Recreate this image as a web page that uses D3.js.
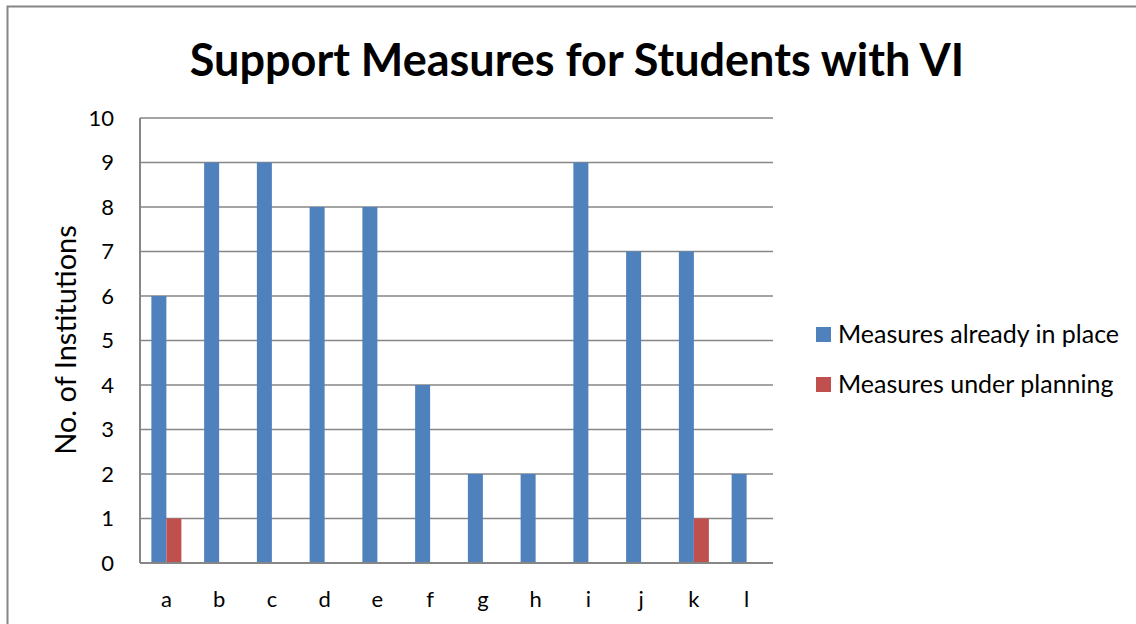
<!DOCTYPE html>
<html><head><meta charset="utf-8">
<script src="https://cdn.jsdelivr.net/npm/d3@7"></script>
<style>body{margin:0;background:#fff;} svg{display:block;}</style>
</head><body>
<script>
const categories = ["a","b","c","d","e","f","g","h","i","j","k","l"];
const inPlace = [6,9,9,8,8,4,2,2,9,7,7,2];
const underPlanning = [1,0,0,0,0,0,0,0,0,0,1,0];
const seriesNames = ["Measures already in place","Measures under planning"];
const colors = ["#4F81BD","#C0504D"];
const yTicks = [0,1,2,3,4,5,6,7,8,9,10];

const W=1136,H=624;
const svg=d3.select("body").append("svg").attr("width",W).attr("height",H);
const font="Lato, 'Open Sans', sans-serif";
svg.append("rect").attr("x",7.5).attr("y",6.5).attr("width",W+10).attr("height",H+10)
  .attr("fill","#fff").attr("stroke","#868686").attr("stroke-width",2);

const L=140,R=773,T=118,B=563;
const x=d3.scaleBand().domain(categories).range([L,R]).paddingInner(0).paddingOuter(0);
const y=d3.scaleLinear().domain([0,10]).range([B,T]);
const gw=30;
const x1=d3.scaleBand().domain([0,1]).range([0,gw]);

svg.append("g").selectAll("line").data(yTicks).join("line")
  .attr("x1",L).attr("x2",R).attr("y1",d=>y(d)).attr("y2",d=>y(d))
  .attr("stroke","#868686").attr("stroke-width",1.5);

const data=categories.map((c,i)=>({c,vals:[inPlace[i],underPlanning[i]]}));
const g=svg.append("g");
data.forEach(d=>{
  d.vals.forEach((v,s)=>{
    if(v<=0) return;
    const bx=x(d.c)+(x.bandwidth()-gw)/2+x1(s);
    g.append("rect").attr("x",bx).attr("y",y(v)).attr("width",x1.bandwidth()).attr("height",y(0)-y(v))
      .attr("fill",colors[s]);
  });
});

svg.append("line").attr("x1",L).attr("x2",L).attr("y1",T).attr("y2",B).attr("stroke","#868686").attr("stroke-width",2);
svg.append("line").attr("x1",L).attr("x2",R).attr("y1",B).attr("y2",B).attr("stroke","#868686").attr("stroke-width",2);

const yAxis=d3.axisLeft(y).tickValues(yTicks).tickSize(0).tickPadding(26);
const ya=svg.append("g").attr("transform",`translate(${L},0)`).call(yAxis);
ya.select(".domain").remove();
ya.selectAll("text").attr("font-family",font).attr("font-size",22).attr("fill","#000");

const xAxis=d3.axisBottom(x).tickSize(0).tickPadding(28);
const xa=svg.append("g").attr("transform",`translate(0,${B})`).call(xAxis);
xa.select(".domain").remove();
xa.selectAll("text").attr("font-family",font).attr("font-size",22).attr("fill","#000");

svg.append("text").attr("x",577).attr("y",76).attr("text-anchor","middle")
  .attr("font-family",font).attr("font-weight","bold").attr("font-size",45).text("Support Measures for Students with VI");

svg.append("text").attr("transform","translate(76,340) rotate(-90)").attr("text-anchor","middle")
  .attr("font-family",font).attr("font-size",29).text("No. of Institutions");

const lg=svg.append("g");
seriesNames.forEach((n,i)=>{
  const yy=334+i*50;
  lg.append("rect").attr("x",816).attr("y",yy-7).attr("width",15).attr("height",15).attr("fill",colors[i]);
  lg.append("text").attr("x",838).attr("y",yy+9).attr("font-family",font).attr("font-size",25).text(n);
});
</script>
</body></html>
